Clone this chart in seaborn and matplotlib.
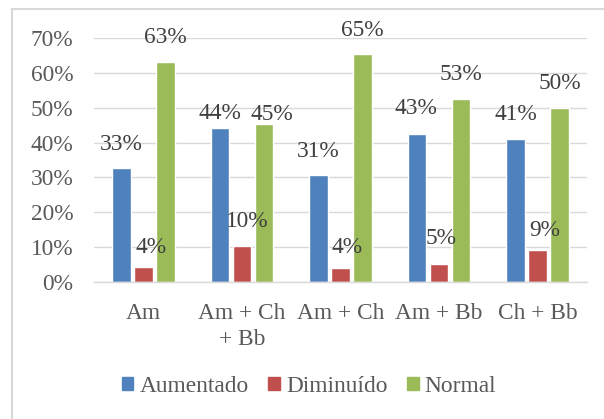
import numpy as np
import pandas as pd
import seaborn as sns
import matplotlib.pyplot as plt
from matplotlib.patches import Rectangle

# Chart data (percent)
categories = ['Am', 'Am + Ch\n+ Bb', 'Am + Ch', 'Am + Bb', 'Ch + Bb']
series = ['Aumentado', 'Diminuído', 'Normal']
aumentado = [32.6, 44.3, 30.8, 42.5, 40.9]
diminuido = [4.2, 10.4, 4.1, 5.2, 9.2]
normal = [63.1, 45.3, 65.3, 52.5, 49.9]
labels_aumentado = [33, 44, 31, 43, 41]
labels_diminuido = [4, 10, 4, 5, 9]
labels_normal = [63, 45, 65, 53, 50]

colors = ['#4F81BD', '#C0504D', '#9BBB59']
text_color = '#404040'
grid_color = '#D9D9D9'
fsize = 16.8

# label offsets in pixels (dx, dy) from bar top centre, per series
label_offsets = [
    [(0, 24), (0, 14), (0, 23), (-1, 25), (0, 25)],
    [(8, 20), (5, 24), (7, 20), (2, 25), (7, 19)],
    [(0, 25), (8, 10), (0, 24), (0, 25), (0, 25)],
]

df = pd.DataFrame({
    'Categoria': categories * 3,
    'Serie': [s for s in series for _ in categories],
    'Valor': aumentado + diminuido + normal,
})
all_labels = [labels_aumentado, labels_diminuido, labels_normal]

sns.set_style('white')
plt.rcParams['font.family'] = 'serif'
plt.rcParams['font.serif'] = ['Liberation Serif', 'DejaVu Serif']

fig = plt.figure(figsize=(6.04, 4.19), dpi=100)
ax = fig.add_axes([94 / 604, 1 - 282 / 419, 493 / 604, 244 / 419])

sns.barplot(data=df, x='Categoria', y='Valor', hue='Serie', order=categories,
            hue_order=series, palette=colors, width=0.67, gap=0.16,
            saturation=1, legend=False, ax=ax)

ax.set_ylim(0, 70)
ax.set_xlim(-0.5, 4.5)
ax.set_yticks(np.arange(0, 71, 10))
ax.set_yticklabels(['{}%'.format(v) for v in range(0, 71, 10)])
ax.set_xlabel('')
ax.set_ylabel('')
ax.grid(axis='y', color=grid_color, linewidth=1.0)
ax.set_axisbelow(True)
for side in ['top', 'right', 'left']:
    ax.spines[side].set_visible(False)
ax.spines['bottom'].set_color(grid_color)
ax.spines['bottom'].set_linewidth(1.0)
ax.tick_params(axis='both', length=0, labelsize=fsize, labelcolor='#595959')
ax.tick_params(axis='y', pad=15)
ax.tick_params(axis='x', pad=15)
for lbl in ax.get_xticklabels():
    lbl.set_linespacing(1.3)

# data labels
for j, container in enumerate(ax.containers):
    for i, bar in enumerate(container):
        dx, dy = label_offsets[j][i]
        ax.annotate('{}%'.format(all_labels[j][i]),
                    (bar.get_x() + bar.get_width() / 2, bar.get_height()),
                    xytext=(dx * 0.72, dy * 0.72), textcoords='offset points',
                    ha='center', va='center', fontsize=fsize, color=text_color,
                    annotation_clip=False)

# legend
handles = [Rectangle((0, 0), 1, 1, color=c) for c in colors]
fig.legend(handles, series, loc='center', bbox_to_anchor=(309 / 604, 1 - 386 / 419),
           ncol=3, frameon=False, fontsize=fsize, handlelength=0.5, handleheight=0.5,
           handletextpad=0.25, columnspacing=0.85, labelcolor='#595959')

# chart border
fig.patches.append(Rectangle((12 / 604, -0.1), 1.2, 1 - 9 / 419 + 0.1,
                             transform=fig.transFigure, fill=False,
                             edgecolor=grid_color, linewidth=1.5))

fig.savefig('out.png', dpi=100)
